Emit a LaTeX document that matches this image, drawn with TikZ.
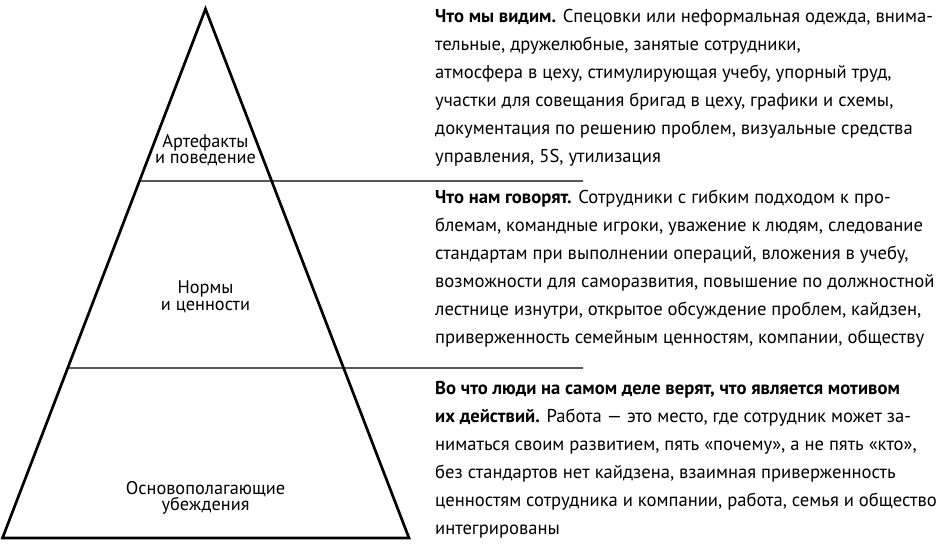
\documentclass[tikz,border=0pt]{standalone}
\usepackage{fontspec}
\setmainfont{PT Sans}
\usetikzlibrary{calc}
\tikzset{
  pyr/.style={line width=2.7pt, line join=miter},
  divider/.style={line width=1.3pt},
  lvl/.style={align=center, inner sep=0pt, font=\fontsize{18.3}{16.5}\selectfont},
  desc/.style={anchor=base west, inner sep=0pt, font=\fontsize{18.6}{28}\selectfont}
}
\begin{document}
\begin{tikzpicture}[x=1pt,y=-1pt]
\useasboundingbox[fill=white] (0,0) rectangle (946,552);
\coordinate (apex) at (205.5,9);
\coordinate (bl) at (2.5,538);
\coordinate (br) at (409,538);
\draw[pyr] (apex) -- (bl) -- (br) -- cycle;
\coordinate (l1) at ($(apex)!{(181-9)/529}!(bl)$);
\coordinate (l2) at ($(apex)!{(368-9)/529}!(bl)$);
\coordinate (r1) at (583,181);
\coordinate (r2) at (583,368);
\draw[divider] (l1) -- (r1);
\draw[divider] (l2) -- (r2);
\node[lvl] (art) at (205.5,150) {Артефакты\\и поведение};
\node[lvl] (norm) at (205.5,297) {Нормы\\и ценности};
\node[lvl] (base) at (205.5,498) {Основополагающие\\убеждения};
\node[desc] (t1) at (435,22) {\parbox[t]{520pt}{\raggedright
\textbf{Что мы видим.} Спецовки или неформальная одежда, внима-\\
тельные, дружелюбные, занятые сотрудники,\\
атмосфера в цеху, стимулирующая учебу, упорный труд,\\
участки для совещания бригад в цеху, графики и схемы,\\
документация по решению проблем, визуальные средства\\
управления, 5S, утилизация}};
\node[desc] (t2) at (435,203) {\parbox[t]{520pt}{\raggedright
\textbf{Что нам говорят.} Сотрудники с гибким подходом к про-\\
блемам, командные игроки, уважение к людям, следование\\
стандартам при выполнении операций, вложения в учебу,\\
возможности для саморазвития, повышение по должностной\\
лестнице изнутри, открытое обсуждение проблем, кайдзен,\\
приверженность семейным ценностям, компании, обществу}};
\node[desc] (t3) at (435,394) {\parbox[t]{520pt}{\raggedright
\textbf{Во что люди на самом деле верят, что является мотивом}\\
\textbf{их действий.} Работа — это место, где сотрудник может за-\\
ниматься своим развитием, пять «почему», а не пять «кто»,\\
без стандартов нет кайдзена, взаимная приверженность\\
ценностям сотрудника и компании, работа, семья и общество\\
интегрированы}};
\end{tikzpicture}
\end{document}
